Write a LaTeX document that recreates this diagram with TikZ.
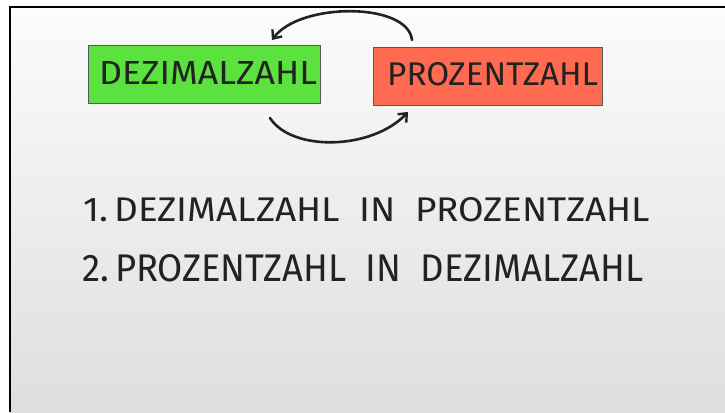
\documentclass[tikz,border=0pt]{standalone}
\usepackage{fontspec}
\setmainfont{Fira Sans}
\usepackage{graphicx}
\usetikzlibrary{arrows.meta}
\definecolor{boardtop}{HTML}{FCFCFC}
\definecolor{boardmid}{HTML}{F2F2F1}
\definecolor{boardbot}{HTML}{DEDEDC}
\definecolor{cardgreen}{HTML}{5CE23E}
\definecolor{cardred}{HTML}{FF6A50}
\definecolor{marker}{HTML}{222222}
\tikzset{
  card/.style={draw=black!65, line width=0.8pt, inner sep=0, anchor=north west},
  pen/.style={marker, line width=2.6pt, line cap=round, -{Straight Barb[length=7pt,width=12pt,line width=2.4pt]}},
  txt/.style={inner sep=0, anchor=north west, text=marker}
}
\begin{document}
\begin{tikzpicture}[x=1pt,y=-1pt]
\useasboundingbox (0,0) rectangle (725,412);
\fill[white] (0,0) rectangle (725,412);
\shade[top color=boardtop, middle color=boardmid, bottom color=boardbot] (10,7) rectangle (725,412);
\draw[black, line width=2.6pt] (10,412) -- (10,7) -- (725,7);
% cards
\node[card, fill=cardgreen, minimum width=232pt, minimum height=58pt] (dez) at (88,45) {};
\node[card, fill=cardred, minimum width=229pt, minimum height=58pt] (pro) at (373,47) {};
\node[txt] (dezt) at (99,61) {\resizebox{218pt}{23pt}{DEZIMALZAHL}};
\node[txt] (prot) at (387,62) {\resizebox{211pt}{23pt}{PROZENTZAHL}};
% arrows
\coordinate (a1s) at (412,40);
\coordinate (a1e) at (272,40);
\coordinate (b1s) at (270,118);
\coordinate (b1e) at (408,112);
\draw[pen] (a1s) .. controls (408,2) and (300,2) .. (a1e);
\draw[pen] (b1s) .. controls (292,152) and (372,150) .. (b1e);
% lines of text
\node[txt] (l1) at (83,197) {\resizebox{567pt}{24pt}{1.\,DEZIMALZAHL\ \ IN\ \ PROZENTZAHL}};
\node[txt] (l2) at (82,254) {\resizebox{561pt}{27pt}{2.\,PROZENTZAHL\ \ IN\ \ DEZIMALZAHL}};
\end{tikzpicture}
\end{document}
